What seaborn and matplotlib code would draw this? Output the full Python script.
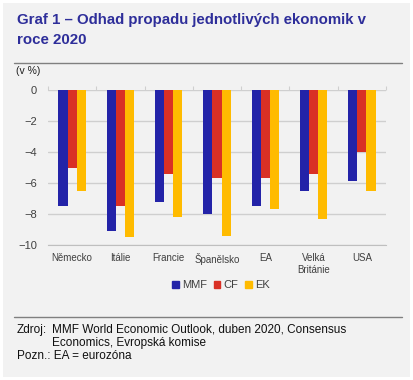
import numpy as np
import pandas as pd
import matplotlib
matplotlib.use("Agg")
import matplotlib.pyplot as plt
import seaborn as sns
from matplotlib.patches import Rectangle
from matplotlib.lines import Line2D

countries = ["Německo", "Itálie", "Francie", "Španělsko", "EA", "Velká\nBritánie", "USA"]
mmf = [-7.5, -9.1, -7.2, -8.0, -7.5, -6.5, -5.9]
cf = [-5.0, -7.5, -5.4, -5.7, -5.7, -5.4, -4.0]
ek = [-6.5, -9.5, -8.2, -9.4, -7.7, -8.3, -6.5]
sources = ["MMF", "CF", "EK"]
colors = ["#2323A8", "#D93025", "#FFBB00"]

df = pd.DataFrame({"country": countries * 3,
                   "value": mmf + cf + ek,
                   "source": np.repeat(sources, len(countries))})

sns.set_style("white")
plt.rcParams["font.family"] = ["Liberation Sans", "DejaVu Sans"]

bg = "#F2F2F2"
fig = plt.figure(figsize=(4.13, 3.80), dpi=100)
fig.patch.set_facecolor("white")
fig.patches.append(Rectangle((3 / 413, 3 / 380), 407 / 413, 374 / 380,
                             transform=fig.transFigure, facecolor=bg,
                             edgecolor="none", zorder=-10))

ax = fig.add_axes([48 / 413, 1 - 245 / 380, (386 - 48) / 413, (245 - 90) / 380])
ax.set_facecolor(bg)
sns.barplot(data=df, x="country", y="value", hue="source", palette=colors,
            width=0.57, ax=ax, saturation=1, legend=False, linewidth=0)

ax.set_ylim(-10, 0)
ax.set_yticks(range(-10, 1, 2))
ax.yaxis.grid(True, color="#CFCFCF", linewidth=1)
ax.set_axisbelow(True)
for s in ["top", "right", "left"]:
    ax.spines[s].set_visible(False)
ax.spines["bottom"].set_color("#BFBFBF")
ax.set_xlabel("")
ax.set_ylabel("")
ax.tick_params(axis="both", length=0, labelsize=7, colors="#404040", pad=6)
ax.tick_params(axis="y", pad=8, labelsize=8)
ax.set_xlim(-0.5, len(countries) - 0.5)

# small category separators on the zero line
top = ax.secondary_xaxis("top")
top.set_xticks(np.arange(len(countries) + 1) - 0.5)
top.tick_params(length=3, color="#CFCFCF", labeltop=False)
top.spines["top"].set_visible(False)

# title and rules
fig.text(17 / 413, 1 - 20 / 380, "Graf 1 – Odhad propadu jednotlivých ekonomik v",
         fontsize=10.8, fontweight="bold", color="#2E2E9A", va="center")
fig.text(17 / 413, 1 - 40 / 380, "roce 2020",
         fontsize=10.8, fontweight="bold", color="#2E2E9A", va="center")
fig.add_artist(Line2D([14 / 413, 402 / 413], [1 - 63 / 380] * 2, color="#808080", lw=1))
fig.text(16 / 413, 1 - 71 / 380, "(v %)", fontsize=7.5, color="#202020", va="center")

handles = [Rectangle((0, 0), 1, 1, color=c) for c in colors]
fig.legend(handles, sources, loc="center", bbox_to_anchor=(221 / 413, 1 - 285 / 380),
           ncol=3, frameon=False, fontsize=8, handlelength=0.6, handleheight=0.6,
           handletextpad=0.3, columnspacing=0.6, labelcolor="#404040")

fig.add_artist(Line2D([14 / 413, 402 / 413], [1 - 317 / 380] * 2, color="#808080", lw=1))
fig.text(17 / 413, 1 - 330 / 380, "Zdroj:", fontsize=8.5, color="#101010", va="center")
fig.text(52 / 413, 1 - 330 / 380, "MMF World Economic Outlook, duben 2020, Consensus",
         fontsize=8.5, color="#101010", va="center")
fig.text(52 / 413, 1 - 343 / 380, "Economics, Evropská komise",
         fontsize=8.5, color="#101010", va="center")
fig.text(17 / 413, 1 - 356 / 380, "Pozn.: EA = eurozóna", fontsize=8.5,
         color="#101010", va="center")

fig.savefig("out.png", dpi=100, facecolor=fig.get_facecolor())
